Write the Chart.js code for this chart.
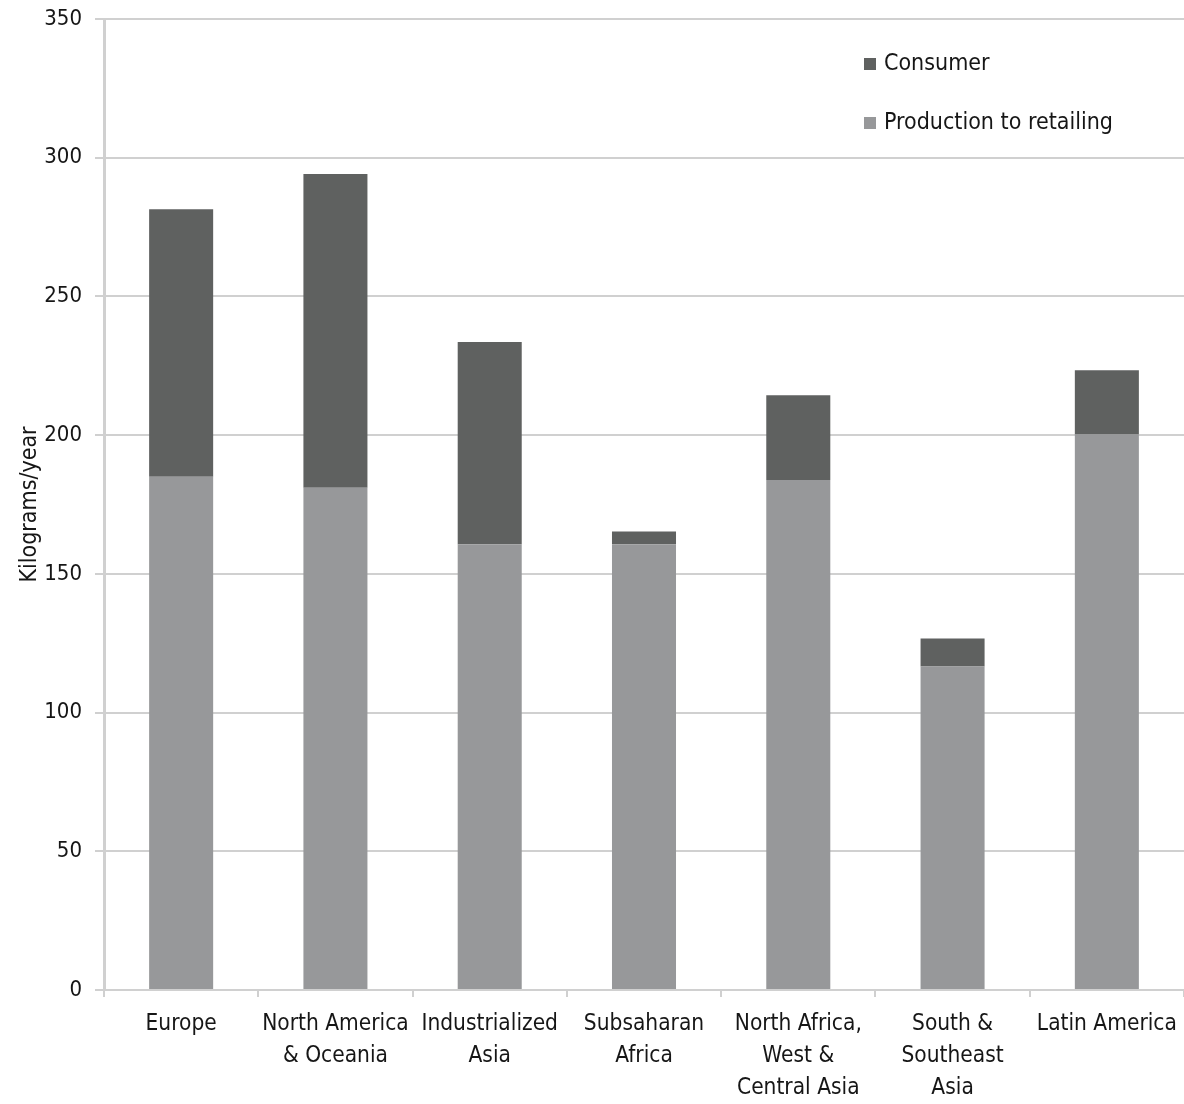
<!DOCTYPE html>
<html>
<head>
<meta charset="utf-8">
<script src="https://cdn.jsdelivr.net/npm/chart.js@4/dist/chart.umd.min.js"></script>
<style>
  html, body { margin: 0; padding: 0; background: #ffffff; }
  #wrap { width: 1184px; height: 1104px; }
</style>
</head>
<body>
<div id="wrap"><canvas id="c" width="1184" height="1104"></canvas></div>
<script>
// Food loss per capita by region (kg/year)
const regions = [
  "Europe",
  ["North America", "& Oceania"],
  ["Industrialized", "Asia"],
  ["Subsaharan", "Africa"],
  ["North Africa,", "West &", "Central Asia"],
  ["South &", "Southeast", "Asia"],
  "Latin America"
];
const productionToRetailing = [185, 181, 160.7, 160.7, 183.8, 116.6, 200.2];
const consumer = [96.4, 113.1, 72.9, 4.6, 30.6, 10.1, 23.2];
const yTicks = [0, 50, 100, 150, 200, 250, 300, 350];

const FONT = "'DejaVu Sans Condensed', 'Liberation Sans Narrow', sans-serif";
const DARK = "#5f6160";
const LIGHT = "#97989a";
const GRID = "#d0d0d0";
const TEXT = "#161616";

// Legend drawn inside the plot, top right
const insideLegend = {
  id: "insideLegend",
  afterDraw(chart) {
    const ctx = chart.ctx;
    const items = [
      { text: "Consumer", color: DARK, y: 64 },
      { text: "Production to retailing", color: LIGHT, y: 123 }
    ];
    ctx.save();
    ctx.font = "23px " + FONT;
    ctx.textBaseline = "middle";
    ctx.textAlign = "left";
    items.forEach(it => {
      ctx.fillStyle = it.color;
      ctx.fillRect(864, it.y - 6, 12, 12);
      ctx.fillStyle = TEXT;
      ctx.fillText(it.text, 884, it.y);
    });
    ctx.restore();
  }
};

new Chart(document.getElementById("c"), {
  type: "bar",
  data: {
    labels: regions,
    datasets: [
      {
        label: "Production to retailing",
        data: productionToRetailing,
        backgroundColor: LIGHT,
        borderWidth: 0,
        categoryPercentage: 1,
        barPercentage: 0.415
      },
      {
        label: "Consumer",
        data: consumer,
        backgroundColor: DARK,
        borderWidth: 0,
        categoryPercentage: 1,
        barPercentage: 0.415
      }
    ]
  },
  options: {
    responsive: false,
    animation: false,
    layout: { autoPadding: false, padding: { top: 19, right: 0, bottom: 0, left: 0 } },
    plugins: {
      legend: { display: false },
      tooltip: { enabled: false }
    },
    scales: {
      x: {
        stacked: true,
        offset: true,
        afterFit(scale) {
          scale.height = 114;
          scale.paddingLeft = 0;
          scale.paddingRight = 0;
        },
        grid: {
          offset: true,
          drawOnChartArea: false,
          drawTicks: true,
          tickLength: 7,
          color: GRID,
          lineWidth: 2
        },
        border: { display: true, color: GRID, width: 2 },
        ticks: {
          autoSkip: false,
          maxRotation: 0,
          minRotation: 0,
          padding: 11,
          color: TEXT,
          font: { family: FONT, size: 22.5, lineHeight: 1.42 }
        }
      },
      y: {
        stacked: true,
        min: 0,
        max: 350,
        afterFit(scale) {
          scale.width = 104;
          scale.paddingTop = 0;
          scale.paddingBottom = 0;
        },
        afterBuildTicks(scale) { scale.ticks = yTicks.map(v => ({ value: v })); },
        grid: {
          color: GRID,
          lineWidth: 2,
          drawTicks: true,
          tickLength: 9
        },
        border: { display: true, color: GRID, width: 3 },
        ticks: {
          padding: 13,
          color: TEXT,
          font: { family: FONT, size: 22, lineHeight: 0.6 }
        },
        title: {
          display: true,
          text: "Kilograms/year",
          color: TEXT,
          font: { family: FONT, size: 23 },
          padding: { top: 16, bottom: 0 }
        }
      }
    }
  },
  plugins: [insideLegend]
});
</script>
</body>
</html>
